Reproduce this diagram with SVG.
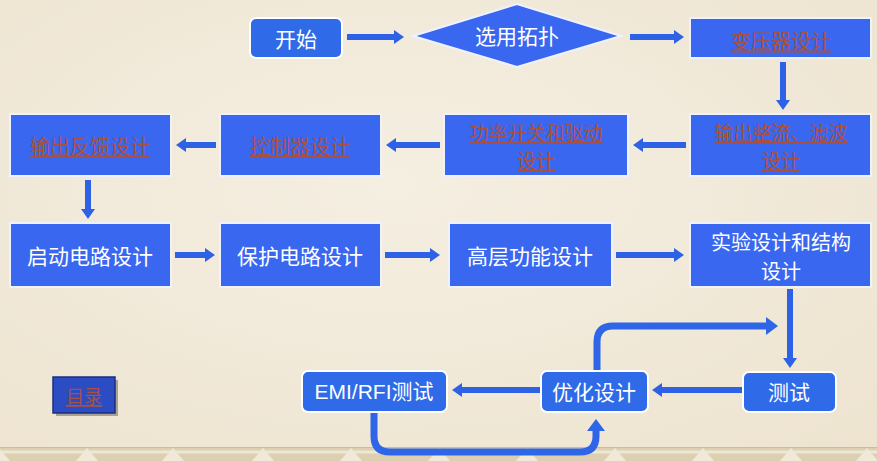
<svg xmlns="http://www.w3.org/2000/svg" width="877" height="461" viewBox="0 0 877 461">
<defs>
<style>
.box{fill:#3a67f0;stroke:#eef2ff;stroke-width:2}
.rbox{fill:#2f6be8;stroke:#ffffff;stroke-width:2}
.wt{fill:#ffffff;font-family:"Noto Sans CJK SC","Noto Sans",sans-serif;font-size:21px;text-anchor:middle;dominant-baseline:central}
.lt{fill:#a9503f;font-family:"Noto Sans CJK SC","Noto Sans",sans-serif;font-size:20px;text-anchor:middle;dominant-baseline:central;text-decoration:underline}
.two{font-size:19px}
.ln{stroke:#2d62e6;stroke-width:6;fill:none}
.cv{stroke:#2f66e8;stroke-width:7;fill:none;stroke-linejoin:round}
</style>
<marker id="ah" markerUnits="userSpaceOnUse" markerWidth="10" markerHeight="14" refX="1" refY="7" orient="auto">
<path d="M0,0 L10,7 L0,14 Z" fill="#2d62e6"/>
</marker>
<marker id="ah2" markerUnits="userSpaceOnUse" markerWidth="12" markerHeight="18" refX="1" refY="9" orient="auto">
<path d="M0,0 L12,9 L0,18 Z" fill="#2f66e8"/>
</marker>
<radialGradient id="bg" cx="0.45" cy="0.4" r="0.8">
<stop offset="0" stop-color="#f5efe2"/>
<stop offset="1" stop-color="#ede3cf"/>
</radialGradient>
</defs>
<rect x="0" y="0" width="877" height="461" fill="url(#bg)"/>
<g id="band">
<rect x="0" y="447" width="877" height="14" fill="#ddd0b2"/>
<line x1="0" y1="447.5" x2="877" y2="447.5" stroke="#cdbd98" stroke-width="1"/>
<path d="M0,452 H877" stroke="#efe7d5" stroke-width="3"/>
<g fill="#f1e9d7">
<path d="M76,461 L87,448 L98,461 Z"/><path d="M162,461 L173,448 L184,461 Z"/><path d="M252,461 L263,448 L274,461 Z"/><path d="M340,461 L351,448 L362,461 Z"/><path d="M428,461 L439,448 L450,461 Z"/><path d="M516,461 L527,448 L538,461 Z"/><path d="M604,461 L615,448 L626,461 Z"/><path d="M692,461 L703,448 L714,461 Z"/><path d="M780,461 L791,448 L802,461 Z"/><path d="M-12,461 L-1,448 L10,461 Z"/><path d="M856,461 L867,448 L878,461 Z"/>
</g>
</g>
<g id="connectors">
<line class="ln" x1="347" y1="37" x2="395" y2="37" marker-end="url(#ah)"/>
<line class="ln" x1="630" y1="37" x2="675" y2="37" marker-end="url(#ah)"/>
<line class="ln" x1="783" y1="62" x2="783" y2="101" marker-end="url(#ah)"/>
<line class="ln" x1="686" y1="145" x2="642" y2="145" marker-end="url(#ah)"/>
<line class="ln" x1="440" y1="145" x2="395" y2="145" marker-end="url(#ah)"/>
<line class="ln" x1="216" y1="145" x2="185" y2="145" marker-end="url(#ah)"/>
<line class="ln" x1="88" y1="180" x2="88" y2="210" marker-end="url(#ah)"/>
<line class="ln" x1="175" y1="255" x2="206" y2="255" marker-end="url(#ah)"/>
<line class="ln" x1="385" y1="255" x2="431" y2="255" marker-end="url(#ah)"/>
<line class="ln" x1="616" y1="255" x2="675" y2="255" marker-end="url(#ah)"/>
<line class="ln" x1="790" y1="289" x2="790" y2="359" stroke-width="5" marker-end="url(#ah)"/>
<line class="ln" x1="742" y1="390" x2="661" y2="390" marker-end="url(#ah)"/>
<line class="ln" x1="540" y1="390" x2="461" y2="390" marker-end="url(#ah)"/>
<path class="cv" d="M597,371 V342 Q597,326 613,326 H767" marker-end="url(#ah2)"/>
<path class="cv" d="M374,413 V436 Q374,452 390,452 H580 Q596,452 596,436 V430" marker-end="url(#ah2)"/>
</g>
<g id="n_start"><rect class="rbox" x="250" y="18" width="92" height="40" rx="6"/><text class="wt" x="296" y="38">开始</text></g>
<g id="n_topo"><polygon class="box" points="413,36 517,4 621,36 517,67" stroke="#f4f6ff"/><text class="wt" x="517" y="35">选用拓扑</text></g>
<g id="n_trans"><rect class="box" x="690" y="18" width="181" height="40"/><text class="lt" x="781" y="40">变压器设计</text></g>
<g id="n_rect"><rect class="box" x="690" y="114" width="181" height="62"/><text class="lt two" x="781" y="131">输出整流、滤波</text><text class="lt two" x="781" y="159">设计</text></g>
<g id="n_switch"><rect class="box" x="444" y="114" width="184" height="62"/><text class="lt two" x="536" y="131">功率开关和驱动</text><text class="lt two" x="536" y="159">设计</text></g>
<g id="n_ctrl"><rect class="box" x="220" y="114" width="161" height="62"/><text class="lt" x="300" y="145">控制器设计</text></g>
<g id="n_fb"><rect class="box" x="10" y="114" width="161" height="62"/><text class="lt" x="90" y="145">输出反馈设计</text></g>
<g id="n_startup"><rect class="box" x="10" y="223" width="161" height="64"/><text class="wt" x="90" y="255">启动电路设计</text></g>
<g id="n_prot"><rect class="box" x="220" y="223" width="161" height="64"/><text class="wt" x="300" y="255">保护电路设计</text></g>
<g id="n_high"><rect class="box" x="449" y="223" width="163" height="64"/><text class="wt" x="530" y="255">高层功能设计</text></g>
<g id="n_exp"><rect class="box" x="690" y="223" width="181" height="64"/><text class="wt" x="781" y="241" style="font-size:20px">实验设计和结构</text><text class="wt" x="781" y="270" style="font-size:20px">设计</text></g>
<g id="n_test"><rect class="rbox" x="743" y="372" width="93" height="40" rx="6"/><text class="wt" x="789" y="391">测试</text></g>
<g id="n_opt"><rect class="rbox" x="541" y="371" width="107" height="41" rx="6"/><text class="wt" x="594" y="391">优化设计</text></g>
<g id="n_emi"><rect class="rbox" x="302" y="371" width="145" height="41" rx="6"/><text class="wt" x="374" y="391" style="font-family:'Liberation Sans','Noto Sans CJK SC',sans-serif">EMI/RFI测试</text></g>
<g id="n_toc"><rect x="56" y="380" width="62" height="36" fill="#6d6a60" opacity="0.55"/><rect x="53" y="377" width="62" height="36" fill="#2b4cc2" stroke="#1b2f80" stroke-width="1.5"/><text class="lt" x="84" y="395" style="font-size:18px">目录</text></g>
</svg>
